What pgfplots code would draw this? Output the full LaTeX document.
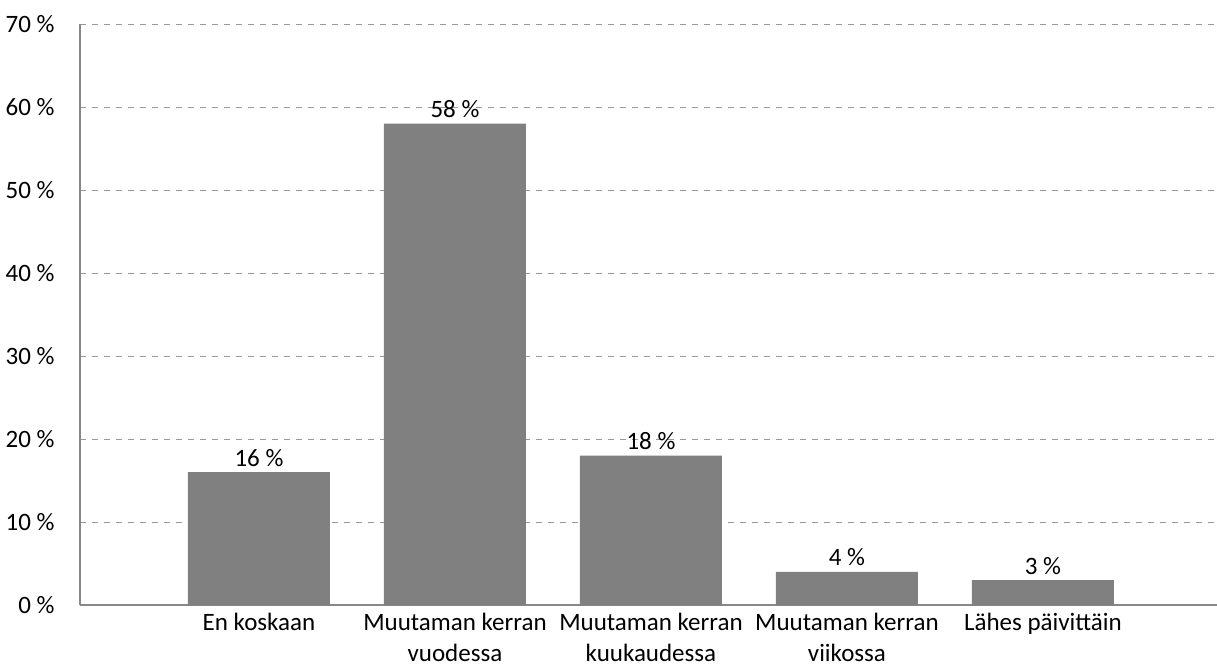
\documentclass[border=0pt]{standalone}
\usepackage{fontspec}
\setmainfont{Carlito}
\usepackage{pgfplots}
\pgfplotsset{compat=1.18}
\definecolor{barg}{HTML}{808080}
\definecolor{gridg}{HTML}{999999}
\definecolor{axg}{HTML}{888888}
\begin{document}
\begin{tikzpicture}
\useasboundingbox (-40pt,-30.5pt) rectangle (568.5pt,302.5pt);
\begin{axis}[
  at={(0,0)}, anchor=south west,
  scale only axis, width=568.5pt, height=290.5pt,
  xmin=0.0867, xmax=5.888,
  ymin=0, ymax=70,
  ytick={0,10,...,70},
  xtick={1,2,3,4,5},
  xticklabels={En koskaan, Muutaman kerran\\vuodessa, Muutaman kerran\\kuukaudessa, Muutaman kerran\\viikossa, Lähes päivittäin},
  xticklabel style={align=center, font=\fontsize{12.5}{15.2}\selectfont, anchor=north, inner sep=0pt, yshift=-4pt},
  yticklabel={\pgfmathprintnumber{\tick}~\%},
  yticklabel style={font=\fontsize{12.5}{15}\selectfont, anchor=east, inner sep=0pt, xshift=-12.5pt},
  /pgf/number format/assume math mode=true,
  major tick length=0pt,
  axis x line*=bottom, axis y line*=left,
  axis line style={axg, line width=0.8pt},
  ymajorgrids, grid style={gridg, dashed, line width=0.5pt},
  axis line style={-},
  ybar, bar width=71pt,
  nodes near coords={\pgfmathprintnumber{\pgfplotspointmeta}~\%},
  nodes near coords style={font=\fontsize{12.5}{15}\selectfont, anchor=base, inner sep=0pt, yshift=3pt},
  clip=false,
]
\addplot[fill=barg, draw=none] coordinates {(1,16) (2,58) (3,18) (4,4) (5,3)};
\end{axis}
\end{tikzpicture}
\end{document}
